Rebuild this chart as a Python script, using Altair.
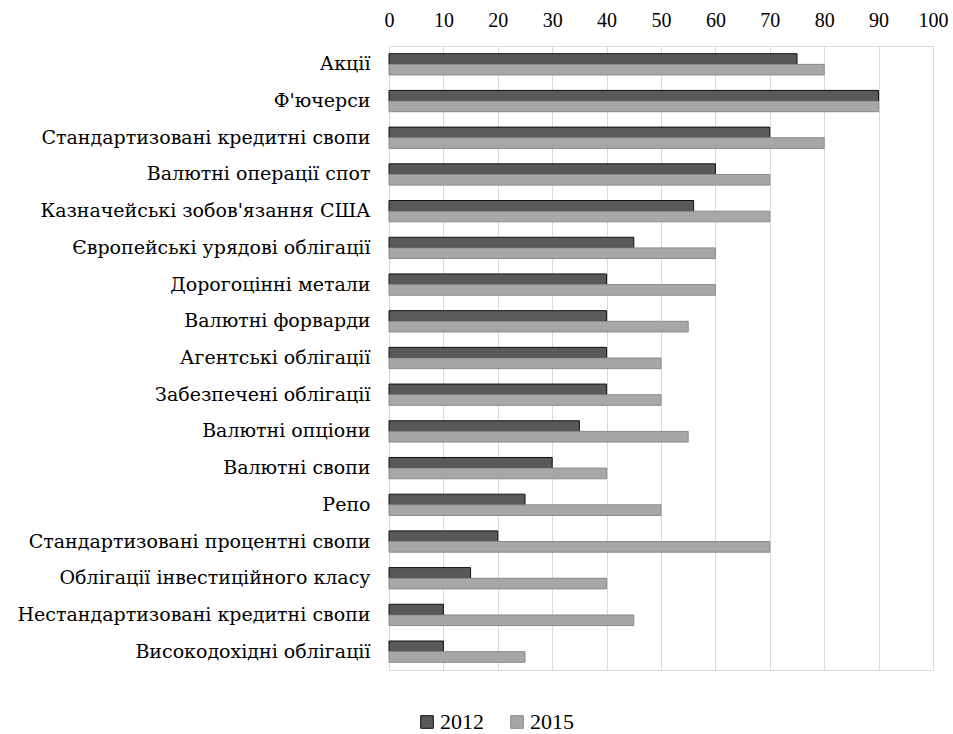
import altair as alt
import pandas as pd

categories = [
    "Акції", "Ф'ючерси", "Стандартизовані кредитні свопи", "Валютні операції спот",
    "Казначейські зобов'язання США", "Європейські урядові облігації", "Дорогоцінні метали",
    "Валютні форварди", "Агентські облігації", "Забезпечені облігації", "Валютні опціони",
    "Валютні свопи", "Репо", "Стандартизовані процентні свопи",
    "Облігації інвестиційного класу", "Нестандартизовані кредитні свопи",
    "Високодохідні облігації",
]
v2012 = [75, 90, 70, 60, 56, 45, 40, 40, 40, 40, 35, 30, 25, 20, 15, 10, 10]
v2015 = [80, 90, 80, 70, 70, 60, 60, 55, 50, 50, 55, 40, 50, 70, 40, 45, 25]
years = ["2012", "2015"]

rows = []
for c, a, b in zip(categories, v2012, v2015):
    rows.append({"cat": c, "year": "2012", "value": a})
    rows.append({"cat": c, "year": "2015", "value": b})
df = pd.DataFrame(rows)

FONT = "Liberation Serif, Times New Roman, serif"
YFONT = "DejaVu Serif"

chart = alt.Chart(df).mark_bar(strokeWidth=1).encode(
    y=alt.Y("cat:N", sort=categories, title=None,
            scale=alt.Scale(paddingInner=0.42, paddingOuter=0.21),
            axis=alt.Axis(labelFont=YFONT, labelFontSize=19, labelColor="#000",
                          labelPadding=19, ticks=False, domain=False, labelLimit=400)),
    yOffset=alt.YOffset("year:N", sort=years),
    x=alt.X("value:Q", title=None,
            scale=alt.Scale(domain=[0, 100], nice=False),
            axis=alt.Axis(orient="top", values=list(range(0, 101, 10)), labelFont=FONT,
                          labelFontSize=20, labelColor="#000", labelPadding=16,
                          ticks=False, domain=False, gridColor="#d9d9d9",
                          labelFlush=False)),
    color=alt.Color("year:N", sort=years,
                    scale=alt.Scale(domain=years, range=["#595959", "#a9a6a6"]),
                    legend=alt.Legend(title=None, orient="none", direction="horizontal",
                                      legendX=27, legendY=665, symbolType="square",
                                      symbolSize=160, symbolStrokeWidth=1,
                                      labelFont=FONT, labelFontSize=22, labelColor="#000",
                                      columnPadding=22, labelOffset=2)),
    stroke=alt.Stroke("year:N", sort=years,
                      scale=alt.Scale(domain=years, range=["#111111", "#8a8a8a"]),
                      legend=None),
).properties(
    width=544, height=624,
    autosize=alt.AutoSizeParams(type="none"),
    padding={"left": 389, "top": 46, "right": 20, "bottom": 64},
).configure_view(stroke="#404040", strokeWidth=1).configure(background="white")

chart.save("out.html", embed_options={"renderer": "svg", "actions": False})
